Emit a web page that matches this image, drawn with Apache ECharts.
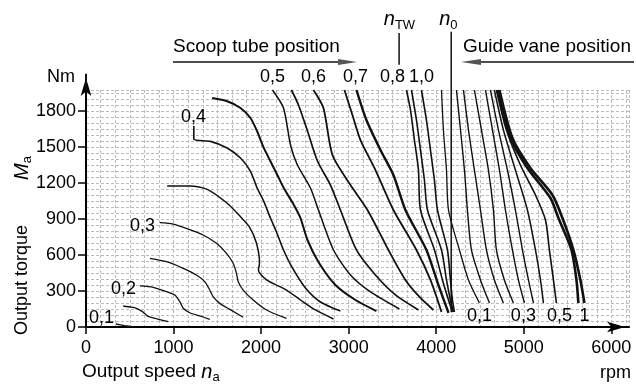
<!DOCTYPE html>
<html><head><meta charset="utf-8">
<script src="https://cdn.jsdelivr.net/npm/echarts@6/dist/echarts.min.js"></script>
<style>html,body{margin:0;padding:0;background:#fff}#c{width:636px;height:384px}</style>
</head><body><div id="c"></div>
<script>
// ---- axes ----
const xTickValues = [0, 1000, 2000, 3000, 4000, 5000, 6000];
const yTickValues = [0, 300, 600, 900, 1200, 1500, 1800];

// ---- scoop tube position curves (rpm, Nm) ----
const scoop01a = [[340,25],[440,12],[540,0]];
const scoop01b = [[425,175],[520,165],[575,155],[640,130],[670,112],[710,88],[800,70],[940,44]];
const scoop02 = [[615,342],[767,331],[919,294],[1014,267],[1071,211],[1110,156],[1185,119],[1300,92],[1413,64]];
const scoop025 = [[730,572],[919,544],[1110,489],[1261,433],[1356,378],[1413,308],[1452,253],[1527,197],[1642,147],[1795,81]];
const scoop03 = [[843,869],[995,858],[1147,822],[1338,767],[1490,697],[1604,614],[1680,531],[1718,447],[1738,378],[1795,308],[1909,225],[2061,142],[2289,72]];
const scoop035 = [[927,1175],[1193,1175],[1384,1147],[1612,1031],[1764,919],[1867,833],[1946,700],[1981,533],[1969,475],[2061,392],[2289,308],[2449,225],[2620,142],[2826,67]];
const scoop04 = [[1231,1675],[1231,1567],[1421,1547],[1612,1492],[1764,1408],[1878,1297],[1954,1158],[2030,1047],[2106,908],[2175,792],[2255,642],[2357,492],[2506,325],[2677,208],[2905,133]];
const scoop045 = [[1441,1908],[1612,1881],[1764,1825],[1878,1742],[1954,1631],[2030,1492],[2106,1381],[2183,1269],[2258,1158],[2372,1019],[2449,908],[2529,725],[2654,542],[2848,350],[3077,225],[3316,133]];
const scoop05 = [[2129,1975],[2255,1825],[2335,1517],[2414,1350],[2563,1158],[2654,975],[2826,642],[3020,433],[3248,292],[3579,150]];
const scoop055 = [[2346,1975],[2426,1850],[2529,1633],[2643,1383],[2791,1183],[2905,975],[3088,642],[3305,433],[3533,267],[3796,142]];
const scoop06 = [[2597,1975],[2711,1825],[2814,1433],[3020,1183],[3214,975],[3453,642],[3647,392],[3819,242],[3967,142]];
const scoop065 = [[2951,1975],[3042,1767],[3134,1558],[3305,1308],[3510,975],[3773,642],[3933,392],[4059,125]];
const scoop07 = [[3088,1975],[3202,1725],[3362,1475],[3510,1267],[3647,975],[3887,642],[4024,350],[4139,117]];
const scoop08a = [[3659,1975],[3705,1808],[3750,1558],[3796,1308],[3819,975],[3979,642],[4070,392],[4139,225],[4184,125]];
const scoop08b = [[3716,1975],[3773,1725],[3819,1475],[3864,1225],[3899,975],[4059,642],[4116,392],[4161,225],[4196,125]];
const scoop10 = [[3830,1975],[3887,1725],[3933,1475],[3978,1225],[4013,975],[4127,642],[4161,392],[4184,225],[4207,125]];

// ---- guide vane position curves ----
const vane1 = [[4059,1975],[4081,1642],[4116,1308],[4139,975],[4264,642],[4367,392],[4492,200]];
const vane2 = [[4230,1975],[4276,1642],[4321,1308],[4355,975],[4401,642],[4504,392],[4607,200]];
const vane3 = [[4310,1975],[4367,1642],[4435,1308],[4504,975],[4572,642],[4663,392],[4766,200]];
const vane4 = [[4435,1975],[4515,1642],[4595,1308],[4652,975],[4686,642],[4777,392],[4880,200]];
const vane5 = [[4561,1975],[4641,1642],[4721,1308],[4789,975],[4869,642],[4937,392],[5006,200]];
const vane6 = [[4618,1975],[4709,1642],[4812,1308],[4903,975],[4983,642],[5052,392],[5109,200]];
const vane7 = [[4663,1975],[4766,1642],[4903,1308],[5040,975],[5132,642],[5189,392],[5223,200]];
const vane8 = [[4686,1975],[4800,1642],[4960,1350],[5132,1100],[5246,892],[5291,642],[5337,392],[5371,200]];
const vane9 = [[4698,1975],[4846,1575],[5040,1325],[5303,1075],[5394,908],[5543,642],[5600,392],[5622,200]];
const vane10 = [[4721,1975],[4869,1575],[5074,1325],[5326,1100],[5440,908],[5565,642],[5645,392],[5691,200]];

// ---- marker lines ----
const n0Line = [[4170,125],[4170,2460]];
const nTWLine = [[3575,2185],[3575,2450]];
const yAxisExt = [[0,1975],[0,2110]];

// ---- curve labels [text, rpm, Nm] ----
const scoopLabels = [['0,1',177,75],['0,2',428,317],['0,3',645,842],['0,4',1227,1750],['0,5',2129,2083],['0,6',2597,2083],['0,7',3077,2083],['0,8',3499,2083],['1,0',3830,2083]];
const vaneLabels = [['0,1',4492,92],['0,3',4994,92],['0,5',5406,92],['1',5691,92]];
const speedMarks = [['{n|n}{s|TW}',3579,2560],['{n|n}{s|0}',4138,2560]];

const FONT = '"Liberation Sans", Arial, Helvetica, sans-serif';
const ink = '#000000';

function curve(data, w) {
  return {type:'line', data:data, xAxisIndex:0, yAxisIndex:0, showSymbol:false, symbol:'none',
    smooth:0.25, clip:false, silent:true, lineStyle:{color:'#111', width:w}, z:3};
}
function labelSeries(list, rich) {
  return {type:'scatter', xAxisIndex:0, yAxisIndex:0, symbolSize:0, clip:false, silent:true,
    itemStyle:{opacity:1, color:ink},
    data:list.map(function(d){return {name:d[0], value:[d[1],d[2]]};}),
    label:{show:true, position:'inside', formatter:'{b}', fontSize:18, fontFamily:FONT, color:ink, opacity:1, rich:rich||{}}, z:5};
}

const gridLine = {color:'#bbbbbb', width:1, type:[3,2]};

const chart = echarts.init(document.getElementById('c'));
chart.setOption({
  animation:false,
  backgroundColor:'#ffffff',
  grid:[
    {left:86, right:7, top:90, bottom:57},
    {left:86, right:24.7, top:111, bottom:57}
  ],
  xAxis:[
    {type:'value', gridIndex:0, min:0, max:6200, interval:1000/6,
     axisLine:{show:true, onZero:false, lineStyle:{color:ink, width:2}, symbol:['none','arrow'], symbolSize:[8,18], symbolOffset:[0,-4]},
     axisTick:{show:false}, axisLabel:{show:false}, splitLine:{show:true, lineStyle:gridLine}},
    {type:'value', gridIndex:1, min:0, max:6000, interval:1000,
     axisLine:{show:false, onZero:false}, axisTick:{show:true, inside:false, length:7, lineStyle:{color:ink, width:1.5}},
     axisLabel:{fontSize:18, fontFamily:FONT, color:ink, margin:12, formatter:function(v){return String(v);}}, splitLine:{show:false}}
  ],
  yAxis:[
    {type:'value', gridIndex:0, min:0, max:1975, interval:50,
     axisLine:{show:true, onZero:false, lineStyle:{color:ink, width:2}, symbol:['none','arrow'], symbolSize:[8,18], symbolOffset:[0,12]},
     axisTick:{show:false}, axisLabel:{show:false}, splitLine:{show:true, lineStyle:gridLine}},
    {type:'value', gridIndex:1, min:0, max:1800, interval:300,
     axisLine:{show:false, onZero:false}, axisTick:{show:true, length:8, lineStyle:{color:ink, width:1.5}},
     axisLabel:{fontSize:18, fontFamily:FONT, color:ink, margin:10, formatter:function(v){return String(v);}}, splitLine:{show:false}}
  ],
  series:[
    curve(scoop01a,1.3), curve(scoop01b,1.3), curve(scoop02,1.3), curve(scoop025,1.3), curve(scoop03,1.3),
    curve(scoop035,1.5), curve(scoop04,1.6), curve(scoop045,2), curve(scoop05,1.5), curve(scoop055,1.7),
    curve(scoop06,1.8), curve(scoop065,1.8), curve(scoop07,2.4), curve(scoop08a,1.6), curve(scoop08b,1.6), curve(scoop10,1.6),
    curve(vane1,1.3), curve(vane2,1.4), curve(vane3,1.4), curve(vane4,1.4), curve(vane5,1.4),
    curve(vane6,1.4), curve(vane7,1.5), curve(vane8,1.6), curve(vane9,2.6), curve(vane10,2.6),
    curve(n0Line,1.5), curve(nTWLine,1.5), curve(yAxisExt,2),
    labelSeries(scoopLabels), labelSeries(vaneLabels),
    labelSeries(speedMarks, {n:{fontStyle:'italic', fontSize:20, fontFamily:FONT, color:ink}, s:{fontSize:13, fontFamily:FONT, color:ink, padding:[12,0,0,0]}})
  ],
  graphic:[
    {type:'text', left:173, top:37, style:{text:'Scoop tube position', font:'19px '+FONT, fill:ink}},
    {type:'line', shape:{x1:173, y1:62, x2:342, y2:62}, style:{stroke:'#111', lineWidth:1.6}},
    {type:'polygon', shape:{points:[[338,59],[357,62],[338,65]]}, style:{fill:'#555'}},
    {type:'text', left:463, top:37, style:{text:'Guide vane position', font:'19px '+FONT, fill:ink}},
    {type:'line', shape:{x1:478, y1:62, x2:634, y2:62}, style:{stroke:'#111', lineWidth:1.6}},
    {type:'polygon', shape:{points:[[481,59],[461,62],[481,65]]}, style:{fill:'#555'}},
    {type:'text', right:561, top:68, style:{text:'Nm', font:'18px '+FONT, fill:ink}},
    {type:'text', left:82, top:362, style:{text:'{a|Output speed }{n|n}{s|a}', rich:{a:{fontSize:19, fontFamily:FONT, fill:ink}, n:{fontSize:20, fontStyle:'italic', fontFamily:FONT, fill:ink}, s:{fontSize:13, fontFamily:FONT, fill:ink, padding:[10,0,0,0]}}}},
    {type:'text', right:5, top:364, style:{text:'rpm', font:'18px '+FONT, fill:ink}},
    {type:'text', x:22, y:280, rotation:Math.PI/2, style:{text:'Output torque', font:'18px '+FONT, fill:ink, align:'center', verticalAlign:'middle'}},
    {type:'text', x:22, y:168, rotation:Math.PI/2, style:{text:'{n|M}{s|a}', align:'center', verticalAlign:'middle', rich:{n:{fontSize:20, fontStyle:'italic', fontFamily:FONT, fill:ink}, s:{fontSize:13, fontFamily:FONT, fill:ink, padding:[10,0,0,0]}}}}
  ]
});
</script></body></html>
